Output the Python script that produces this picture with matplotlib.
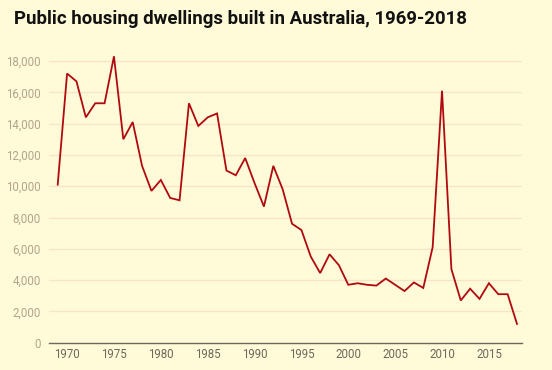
import matplotlib
matplotlib.use("Agg")
import matplotlib.pyplot as plt
from matplotlib.ticker import FuncFormatter

years = list(range(1969, 2019))
dwellings = [10100, 17200, 16700, 14400, 15300, 15300, 18300, 13000, 14100, 11300,
             9700, 10400, 9250, 9100, 15300, 13850, 14400, 14650, 11000, 10700,
             11800, 10200, 8700, 11300, 9800, 7600, 7200, 5500, 4450, 5650,
             4950, 3700, 3800, 3700, 3650, 4100, 3700, 3300, 3850, 3500,
             6100, 16100, 4700, 2700, 3450, 2800, 3800, 3100, 3100, 1200]
y_ticks = [0, 2000, 4000, 6000, 8000, 10000, 12000, 14000, 16000, 18000]
x_ticks = [1970, 1975, 1980, 1985, 1990, 1995, 2000, 2005, 2010, 2015]
title = "Public housing dwellings built in Australia, 1969-2018"

bg = "#FFFAD8"
plt.rcParams['font.family'] = ['Roboto', 'DejaVu Sans']

fig = plt.figure(figsize=(5.52, 3.70), dpi=100, facecolor=bg)
W, H = 552, 370
ax = fig.add_axes([49 / W, 27.3 / H, (521.7 - 49) / W, (316.8 - 27.3) / H])
ax.set_facecolor(bg)

ax.plot(years, dwellings, color="#B00A10", linewidth=1.3, solid_joinstyle="miter", zorder=3)

ax.set_xlim(1968.07, 2018.5)
ax.set_ylim(0, 18500)
ax.set_yticks(y_ticks)
ax.set_xticks(x_ticks)
ax.yaxis.set_major_formatter(FuncFormatter(lambda v, p: f"{int(v):,}"))

ax.grid(axis="y", color="#FBE3C8", linewidth=0.9, zorder=0)
ax.grid(axis="x", visible=False)
for s in ["top", "right", "left"]:
    ax.spines[s].set_visible(False)
ax.spines["bottom"].set_color("#6E685C")
ax.spines["bottom"].set_linewidth(1.0)
ax.spines["bottom"].set_zorder(4)

ax.tick_params(axis="y", length=0, pad=6, labelsize=8.3, labelcolor="#B3A48C")
ax.tick_params(axis="x", length=0, pad=4, labelsize=8.3, labelcolor="#6E685C")

fig.text(14 / W, 1 - 19 / H, title, fontsize=13.4, fontweight="bold", color="#111111",
         ha="left", va="center")

fig.savefig("out.png", dpi=100, facecolor=bg)
